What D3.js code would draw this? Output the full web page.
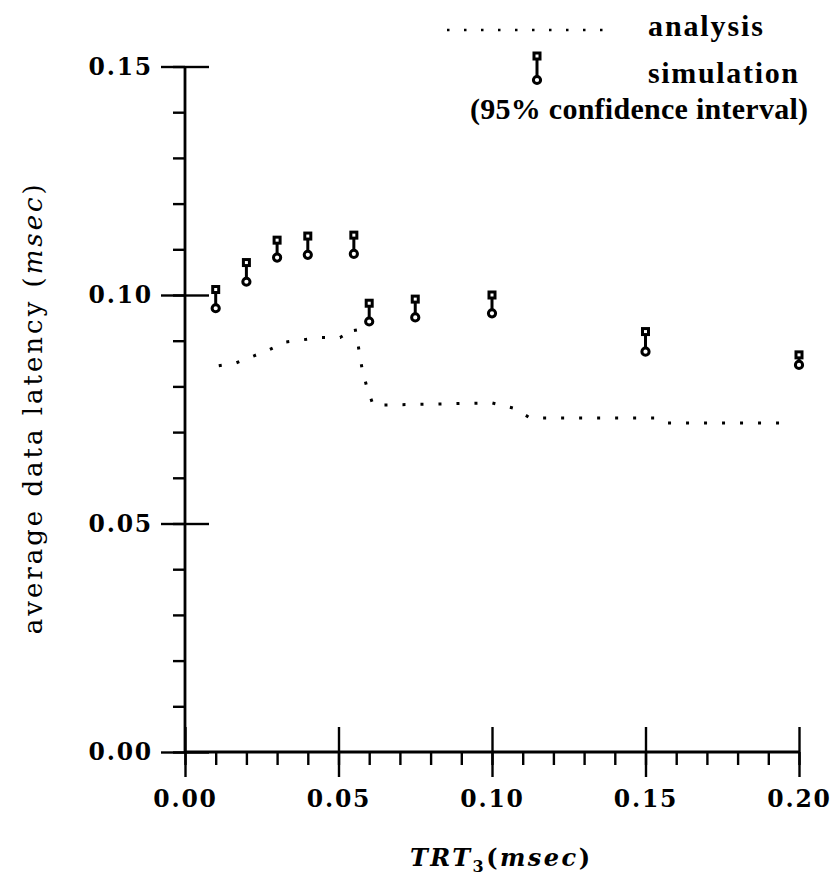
<!DOCTYPE html>
<html>
<head>
<meta charset="utf-8">
<title>latency vs TRT3</title>
<script src="https://d3js.org/d3.v7.min.js"></script>
<style>
  body { margin: 0; background: #fff; overflow: hidden; }
  svg text { fill: #000; }
</style>
</head>
<body>
<svg></svg>
<script>
// simulation: 95% confidence interval per TRT3 value
const simX    = [0.01, 0.02, 0.03, 0.04, 0.055, 0.06, 0.075, 0.10, 0.15, 0.20];
const simHigh = [0.1012, 0.1071, 0.1120, 0.1129, 0.1131, 0.0982, 0.0991, 0.1000, 0.0920, 0.0869];
const simLow  = [0.0971, 0.1029, 0.1082, 0.1088, 0.1090, 0.0942, 0.0951, 0.0960, 0.0876, 0.0847];

// analysis curve (dotted)
const analysisX = [0.011, 0.0165, 0.0225, 0.0274, 0.0328, 0.0384, 0.0443, 0.0505, 0.0554, 0.0565, 0.0576, 0.0592, 0.0613, 0.0792, 0.100, 0.1072, 0.1124, 0.1537, 0.1573, 0.198];
const analysisY = [0.0845, 0.0851, 0.0867, 0.0880, 0.0897, 0.0902, 0.0907, 0.0907, 0.0927, 0.0886, 0.0842, 0.0799, 0.0759, 0.0761, 0.0764, 0.0752, 0.0731, 0.0731, 0.0720, 0.0720];

const xTicks = [0, 0.05, 0.10, 0.15, 0.20];
const yTicks = [0, 0.05, 0.10, 0.15];
const xMinor = d3.range(0, 0.2001, 0.01);
const yMinor = d3.range(0, 0.1501, 0.01);

const width = 838, height = 896;
const svg = d3.select("svg").attr("width", width).attr("height", height);

const x = d3.scaleLinear().domain([0, 0.2]).range([185, 799]);
const y = d3.scaleLinear().domain([0, 0.15]).range([752, 66.5]);

const fmt = d3.format(".2f");
const tickFont = "'DejaVu Serif', serif";
const legendFont = "'Liberation Serif', serif";
const titleFont = "'DejaVu Serif', serif";

// ---- y axis ----
const yAxisG = svg.append("g").attr("transform", `translate(${x(0)},0)`);
yAxisG.call(d3.axisLeft(y).tickValues(yMinor).tickSize(12).tickFormat(""));
yAxisG.call(g => g.select(".domain").remove());
const yMajor = svg.append("g").attr("transform", `translate(${x(0)},0)`)
    .call(d3.axisLeft(y).tickValues(yTicks).tickSize(24).tickPadding(8).tickFormat(fmt));
yMajor.select(".domain").remove();
const yMajorR = svg.append("g").attr("transform", `translate(${x(0)},0)`)
    .call(d3.axisRight(y).tickValues(yTicks).tickSize(24).tickFormat(""));
yMajorR.select(".domain").remove();

// ---- x axis ----
const xMinorG = svg.append("g").attr("transform", `translate(0,${y(0)})`)
    .call(d3.axisBottom(x).tickValues(xMinor).tickSize(13).tickFormat(""));
xMinorG.select(".domain").remove();
const xMajor = svg.append("g").attr("transform", `translate(0,${y(0)})`)
    .call(d3.axisBottom(x).tickValues(xTicks).tickSize(25).tickPadding(13).tickFormat(fmt));
xMajor.select(".domain").remove();
const xMajorT = svg.append("g").attr("transform", `translate(0,${y(0)})`)
    .call(d3.axisTop(x).tickValues(xTicks).tickSize(25).tickFormat(""));
xMajorT.select(".domain").remove();

// axis lines
svg.append("line")
    .attr("x1", x(0)).attr("x2", x(0))
    .attr("y1", y(0.15)).attr("y2", y(0))
    .attr("stroke", "#000").attr("stroke-width", 2.8);
svg.append("line")
    .attr("x1", x(0)).attr("x2", x(0.2))
    .attr("y1", y(0)).attr("y2", y(0))
    .attr("stroke", "#000").attr("stroke-width", 2.8);

svg.selectAll(".tick line").attr("stroke", "#000").attr("stroke-width", 2.4);
svg.selectAll(".tick text")
    .attr("font-family", tickFont)
    .attr("font-weight", "bold")
    .attr("font-size", 23.5)
    .attr("letter-spacing", 1.8)
    .attr("fill", "#000");

// ---- analysis dotted curve ----
const line = d3.line().x((d, i) => x(analysisX[i])).y((d, i) => y(analysisY[i]));
svg.append("path")
    .attr("d", line(analysisX))
    .attr("fill", "none")
    .attr("stroke", "#000")
    .attr("stroke-width", 3)
    .attr("stroke-dasharray", "3,15");

// ---- simulation error bars ----
function errorBar(g, cx, yTop, yBot) {
    g.append("line")
        .attr("x1", cx).attr("x2", cx).attr("y1", yTop).attr("y2", yBot)
        .attr("stroke", "#000").attr("stroke-width", 3);
    g.append("rect")
        .attr("x", cx - 3).attr("y", yTop - 3)
        .attr("width", 6).attr("height", 6)
        .attr("fill", "#fff").attr("stroke", "#000").attr("stroke-width", 3);
    g.append("circle")
        .attr("cx", cx).attr("cy", yBot).attr("r", 3.6)
        .attr("fill", "#fff").attr("stroke", "#000").attr("stroke-width", 3);
}

svg.append("g").selectAll("g")
    .data(simX)
    .enter().append("g")
    .each(function (d, i) {
        errorBar(d3.select(this), x(d), y(simHigh[i]), y(simLow[i]));
    });

// ---- legend ----
const legend = svg.append("g");
legend.append("line")
    .attr("x1", 447).attr("x2", 617).attr("y1", 30).attr("y2", 30)
    .attr("stroke", "#000").attr("stroke-width", 2.5)
    .attr("stroke-dasharray", "2.5,14.5");
legend.append("text")
    .attr("x", 648).attr("y", 36)
    .attr("font-family", legendFont).attr("font-weight", "bold").attr("font-size", 30)
    .attr("textLength", 115).attr("lengthAdjust", "spacing")
    .text("analysis");

errorBar(legend, 537, 56, 80);
legend.append("text")
    .attr("x", 648).attr("y", 83)
    .attr("font-family", legendFont).attr("font-weight", "bold").attr("font-size", 30)
    .attr("textLength", 150).attr("lengthAdjust", "spacing")
    .text("simulation");
legend.append("text")
    .attr("x", 470).attr("y", 119)
    .attr("font-family", legendFont).attr("font-weight", "bold").attr("font-size", 30)
    .attr("textLength", 338).attr("lengthAdjust", "spacing")
    .text("(95% confidence interval)");

// ---- axis titles ----
const yTitle = svg.append("text")
    .attr("transform", `translate(42,${(y(0) + y(0.15)) / 2}) rotate(-90)`)
    .attr("text-anchor", "middle")
    .attr("font-family", titleFont)
    .attr("font-size", 26)
    .attr("textLength", 450).attr("lengthAdjust", "spacing");
yTitle.append("tspan").text("average data latency (");
yTitle.append("tspan").attr("font-style", "italic").text("msec");
yTitle.append("tspan").text(")");

const xTitle = svg.append("text")
    .attr("x", 500).attr("y", 866)
    .attr("text-anchor", "middle")
    .attr("font-family", titleFont)
    .attr("font-weight", "bold")
    .attr("font-size", 24)
    .attr("textLength", 180).attr("lengthAdjust", "spacing");
xTitle.append("tspan").attr("font-style", "italic").text("TRT");
xTitle.append("tspan").attr("font-size", 16).attr("dy", 6).text("3");
xTitle.append("tspan").attr("dy", -6).text("(");
xTitle.append("tspan").attr("font-style", "italic").text("msec");
xTitle.append("tspan").text(")");
</script>
</body>
</html>
